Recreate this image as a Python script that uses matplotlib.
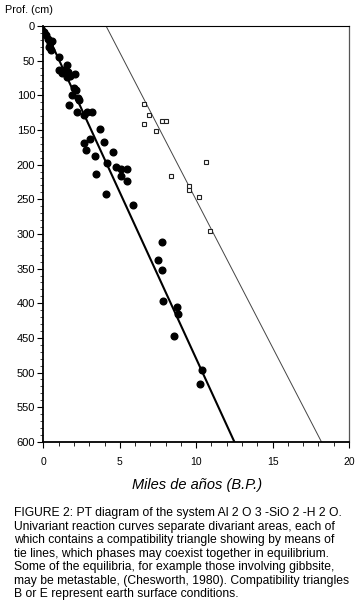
import matplotlib
matplotlib.use('Agg')
import matplotlib.pyplot as plt
import numpy as np

plt.rcParams['font.family'] = ['Liberation Sans', 'DejaVu Sans']

# filled circles (miles de años, profundidad cm)
circ_x = [0.05, 0.16, 0.32, 0.42, 0.58, 0.38, 0.49, 1.03, 1.52, 1.36, 1.03, 1.19,
          1.62, 1.52, 1.73, 2.06, 2.01, 2.12, 1.84, 2.27, 2.32, 1.69, 2.17, 2.67,
          2.86, 3.21, 3.69, 3.04, 2.65, 3.97, 2.78, 3.37, 4.56, 4.13, 4.74, 5.05,
          5.5, 3.45, 5.11, 5.48, 4.08, 5.87, 7.77, 7.5, 7.79, 7.83, 8.77, 8.81,
          8.55, 10.4, 10.23]
circ_y = [8, 13, 19, 24, 22, 30, 34, 44, 56, 63, 64, 68,
          66, 73, 72, 69, 89, 93, 99, 104, 107, 114, 124, 128,
          124, 124, 148, 163, 169, 168, 179, 188, 182, 198, 203, 207,
          207, 214, 217, 223, 242, 258, 312, 337, 352, 397, 406, 416,
          447, 496, 516]

# open squares
sq_x = [6.57, 6.9, 6.59, 7.79, 8.05, 7.4, 8.38, 10.62, 9.53, 9.53, 10.18, 10.93]
sq_y = [112, 128, 142, 137, 137, 152, 217, 196, 231, 236, 246, 296]

# regression lines
fit1_x = [0, 12.5]
fit1_y = [0, 600]
fit2_x = [4.1, 18.2]
fit2_y = [0, 600]

fig = plt.figure(figsize=(3.59, 6.12), dpi=100)
ax = fig.add_axes([0.121, 0.278, 0.851, 0.6795])

ax.plot(fit1_x, fit1_y, color='black', lw=1.5)
ax.plot(fit2_x, fit2_y, color='#444444', lw=0.7)
ax.plot(circ_x, circ_y, 'o', color='black', ms=4.8, mec='black')
ax.plot(sq_x, sq_y, 's', mfc='white', mec='#222222', ms=2.8, mew=0.8)

ax.set_xlim(0, 20)
ax.set_ylim(600, 0)
ax.set_xticks([0, 5, 10, 15, 20])
ax.set_xticks(np.arange(0, 21, 1), minor=True)
ax.set_yticks(np.arange(0, 601, 50))
ax.set_yticks(np.arange(0, 601, 10), minor=True)

ax.tick_params(axis='x', which='major', direction='out', length=4, width=0.8,
               pad=7, labelsize=7.5)
ax.tick_params(axis='x', which='minor', direction='out', length=3, width=0.6)
ax.tick_params(axis='y', which='major', direction='out', length=4, width=0.8,
               pad=2, labelsize=8)
ax.tick_params(axis='y', which='minor', direction='out', length=2, width=0.5)

for s in ['left', 'bottom']:
    ax.spines[s].set_linewidth(1.3)
ax.spines['top'].set_linewidth(0.8)
ax.spines['right'].set_linewidth(0.9)
ax.spines['right'].set_color('#555555')

fig.text(5 / 359, 1 - 10 / 612, 'Prof. (cm)', fontsize=7.8, va='center', ha='left')
fig.text(197 / 359, 1 - 485 / 612, 'Miles de años (B.P.)', fontsize=10.5,
         style='italic', va='center', ha='center')

caption = ("FIGURE 2: PT diagram of the system Al 2 O 3 -SiO 2 -H 2 O.\n"
           "Univariant reaction curves separate divariant areas, each of\n"
           "which contains a compatibility triangle showing by means of\n"
           "tie lines, which phases may coexist together in equilibrium.\n"
           "Some of the equilibria, for example those involving gibbsite,\n"
           "may be metastable, (Chesworth, 1980). Compatibility triangles\n"
           "B or E represent earth surface conditions.")
fig.text(14 / 359, 1 - 507 / 612, caption, fontsize=8.7, va='top', ha='left',
         linespacing=1.17)

fig.savefig('out.png', dpi=100)
